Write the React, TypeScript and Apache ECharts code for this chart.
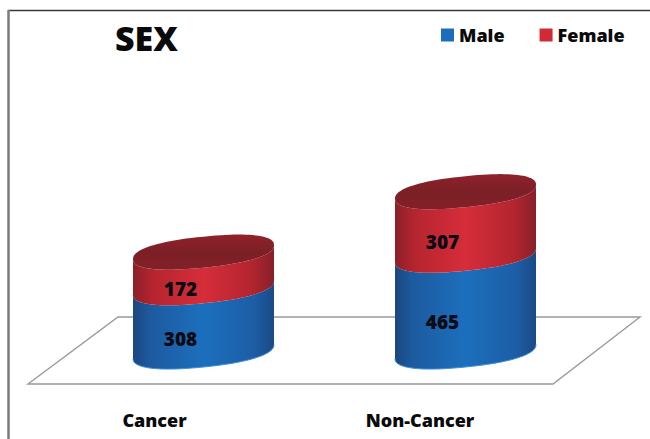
import React, { useEffect, useRef } from "react";
import * as echarts from "echarts";

const categories = ["Cancer", "Non-Cancer"];
const maleCounts = [308, 465];
const femaleCounts = [172, 307];
const valueMax = 800;

const FONT = '"Open Sans", sans-serif';
const WIDTH_RATIO = 141 / 262;
const FACE_DEPTH = 15.5;
const FACE_SKEW = 7;
const FACE_ROUNDNESS = 0.86;
const LABEL_SHIFT_X = -23;
const LABEL_SHIFT_Y = 19;
const ARC_STEPS = 48;

const blueStops = [
  { offset: 0, color: "#1a477f" },
  { offset: 0.12, color: "#1d5a9f" },
  { offset: 0.5, color: "#1c6fbd" },
  { offset: 0.85, color: "#1d5ea6" },
  { offset: 1, color: "#1a4a86" },
];
const redStops = [
  { offset: 0, color: "#8b1f29" },
  { offset: 0.14, color: "#b5252f" },
  { offset: 0.5, color: "#d62d3a" },
  { offset: 0.84, color: "#b3252f" },
  { offset: 1, color: "#86202a" },
];

function soften(v: number): number {
  return Math.sign(v) * Math.pow(Math.abs(v), FACE_ROUNDNESS);
}

// Point on a sheared, slightly squared face; t = 0 is the right edge, t = PI the left edge,
// and angles between them run along the front of the cylinder.
function facePoint(cx: number, cy: number, rx: number, t: number): number[] {
  const c = soften(Math.cos(t));
  return [cx + rx * c, cy + FACE_DEPTH * soften(Math.sin(t)) - FACE_SKEW * c];
}

function frontArc(cx: number, cy: number, rx: number, reverse: boolean): number[][] {
  const pts: number[][] = [];
  for (let i = 0; i <= ARC_STEPS; i++) {
    const t = (Math.PI * i) / ARC_STEPS;
    pts.push(facePoint(cx, cy, rx, reverse ? Math.PI - t : t));
  }
  return pts;
}

function fullFace(cx: number, cy: number, rx: number): number[][] {
  const pts: number[][] = [];
  for (let i = 0; i < ARC_STEPS * 2; i++) {
    pts.push(facePoint(cx, cy, rx, (Math.PI * i) / ARC_STEPS));
  }
  return pts;
}

// One stacked drum segment; each data row is [category, stack start, stack end].
function drumSegment(stops: { offset: number; color: string }[], capped: boolean, rim: string | null) {
  return (_params: any, api: any) => {
    const idx = api.value(0);
    const start = api.coord([idx, api.value(1)]);
    const end = api.coord([idx, api.value(2)]);
    const rx = (api.size([1, 0])[0] * WIDTH_RATIO) / 2;
    const cx = start[0];
    const bottomY = start[1];
    const topY = end[1];
    const body = [...frontArc(cx, bottomY, rx, false), ...frontArc(cx, topY, rx, true)];
    const children: any[] = [
      {
        type: "polygon",
        shape: { points: body },
        style: { fill: new echarts.graphic.LinearGradient(0, 0, 1, 0, stops) },
      },
    ];
    if (rim) {
      children.push({
        type: "polyline",
        shape: { points: frontArc(cx, bottomY, rx, false) },
        style: { fill: "none", stroke: rim, lineWidth: 1 },
      });
    }
    if (capped) {
      children.push({
        type: "polygon",
        shape: { points: fullFace(cx, topY, rx) },
        style: {
          fill: new echarts.graphic.LinearGradient(0, 0, 0, 1, [
            { offset: 0, color: "#8f222b" },
            { offset: 0.5, color: "#7c1f26" },
            { offset: 1, color: "#832027" },
          ]),
        },
      });
    }
    children.push({
      type: "text",
      x: cx + LABEL_SHIFT_X,
      y: (bottomY + topY) / 2 + LABEL_SHIFT_Y,
      style: {
        text: String(api.value(2) - api.value(1)),
        fill: "#0b0b14",
        font: `800 19px ${FONT}`,
        align: "center",
        verticalAlign: "middle",
      },
    });
    return { type: "group", children };
  };
}

export default function App() {
  const ref = useRef<HTMLDivElement>(null);

  useEffect(() => {
    const chart = echarts.init(ref.current!, null, { renderer: "svg" });
    const maleRows = categories.map((_, i) => [i, 0, maleCounts[i]]);
    const femaleRows = categories.map((_, i) => [i, maleCounts[i], maleCounts[i] + femaleCounts[i]]);
    const axisText = { fontFamily: FONT, fontWeight: 800, fontSize: 18, color: "#0a0a0a" };

    chart.setOption({
      animation: false,
      backgroundColor: "#ffffff",
      title: {
        text: "SEX",
        left: 115,
        top: 21,
        padding: 0,
        textStyle: { fontFamily: FONT, fontWeight: 800, fontSize: 34, color: "#0a0a0a" },
      },
      legend: {
        left: 441,
        top: 26,
        padding: 0,
        itemWidth: 13,
        itemHeight: 13,
        itemGap: 35,
        icon: "rect",
        selectedMode: false,
        textStyle: { fontFamily: FONT, fontWeight: 800, fontSize: 18, color: "#0a0a0a" },
        data: ["Male", "Female"],
      },
      grid: { left: 72.5, width: 524, top: 185.9, height: 165.6 },
      xAxis: {
        type: "category",
        data: categories,
        axisLine: { show: false },
        axisTick: { show: false },
        axisLabel: {
          margin: 59,
          ...axisText,
          interval: 0,
          formatter: (v: string) => (v === categories[0] ? `{a|${v}}` : `{b|${v}}`),
          rich: {
            a: { padding: [0, 98, 0, 0], ...axisText },
            b: { padding: [0, 91, 0, 0], ...axisText },
          },
        },
      },
      yAxis: { type: "value", min: 0, max: valueMax, show: false },
      graphic: [
        // page frame: top and left rules
        {
          type: "line",
          shape: { x1: 8, y1: 10.5, x2: 650, y2: 10.5 },
          style: { stroke: "#3a3a3a", lineWidth: 1.5 },
        },
        {
          type: "line",
          shape: { x1: 8.5, y1: 10, x2: 8.5, y2: 439 },
          style: { stroke: "#7b7b7b", lineWidth: 2.5 },
        },
        // floor plane under the drums
        {
          type: "polygon",
          shape: { points: [[28, 384], [118, 317], [640, 317], [553, 384]] },
          style: { fill: "#ffffff", stroke: "#979b9b", lineWidth: 1.4 },
        },
      ],
      series: [
        {
          name: "Male",
          type: "custom",
          coordinateSystem: "cartesian2d",
          itemStyle: { color: "#1c6dbb" },
          renderItem: drumSegment(blueStops, false, "#3f93d8"),
          data: maleRows,
          encode: { x: 0, y: [1, 2] },
          z: 3,
        },
        {
          name: "Female",
          type: "custom",
          coordinateSystem: "cartesian2d",
          itemStyle: { color: "#cf2a36" },
          renderItem: drumSegment(redStops, true, null),
          data: femaleRows,
          encode: { x: 0, y: [1, 2] },
          z: 4,
        },
      ],
    });
    return () => chart.dispose();
  }, []);

  return <div ref={ref} style={{ position: "absolute", left: 0, top: 0, width: 650, height: 439 }} />;
}
